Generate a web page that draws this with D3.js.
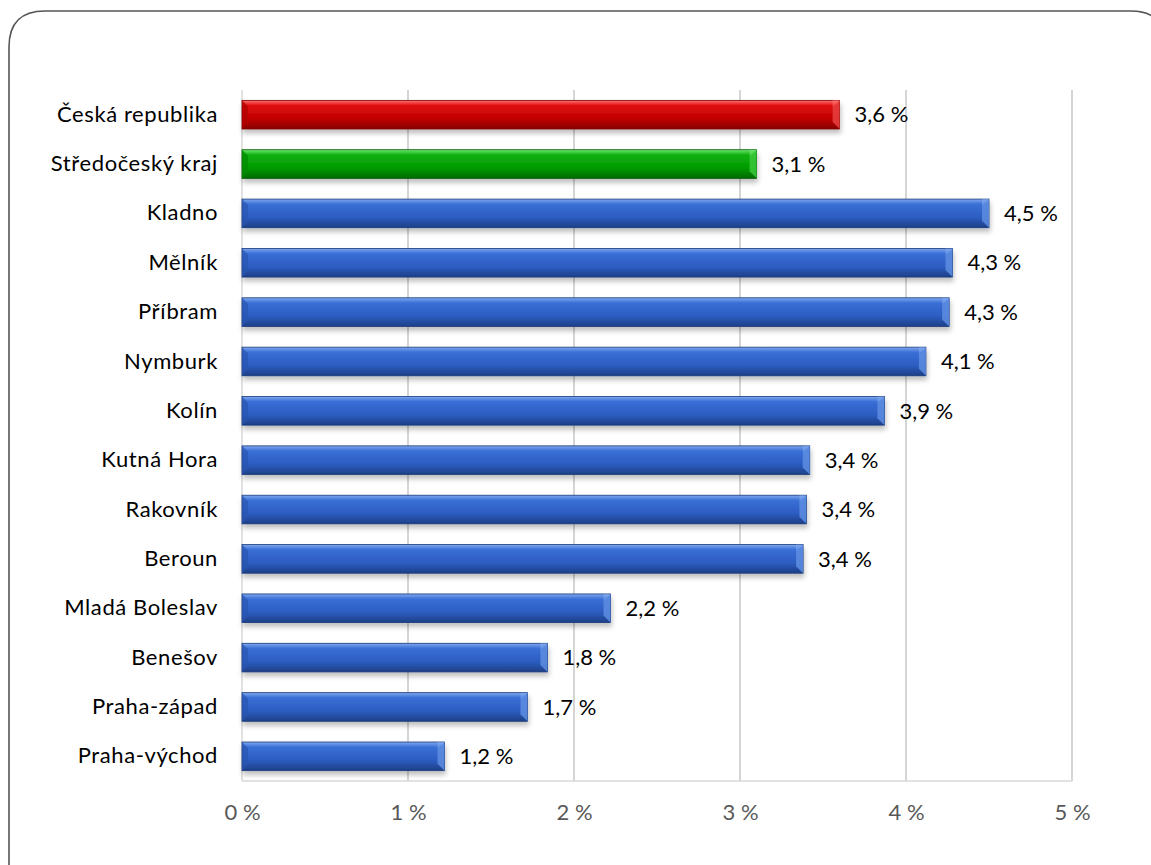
<!DOCTYPE html>
<html><head><meta charset="utf-8">
<script src="https://cdn.jsdelivr.net/npm/d3@7"></script>
<style>
html,body{margin:0;padding:0;background:#fff;}
svg{display:block;}
</style></head>
<body>
<svg id="chart" width="1151" height="865"></svg>
<script>
const categories = ["Česká republika","Středočeský kraj","Kladno","Mělník","Příbram","Nymburk","Kolín","Kutná Hora","Rakovník","Beroun","Mladá Boleslav","Benešov","Praha-západ","Praha-východ"];
const values = [3.6, 3.1, 4.5, 4.28, 4.26, 4.12, 3.87, 3.42, 3.40, 3.38, 2.22, 1.84, 1.72, 1.22];
const barKinds = ["red","green","blue","blue","blue","blue","blue","blue","blue","blue","blue","blue","blue","blue"];
const tickValues = [0,1,2,3,4,5];

const svg = d3.select("#chart");
const W = 1151, H = 865;
const m = {left:242, right:1072, top:90, bottom:781};
const FONT = "Lato, 'Open Sans', sans-serif";

// frame (rounded)
svg.append("path")
  .attr("d", `M9,${H+20} L9,47 Q9,11 45,11 L${W-20},11 Q${W+14},11 ${W+14},45 L${W+14},${H+20}`)
  .attr("fill","none").attr("stroke","#555").attr("stroke-width",1.6);

const defs = svg.append("defs");
const palettes = {
  blue:  {top:"#7fa8ee", mid:"#3a6fd6", low:"#2c5cc0", bot:"#1d3f86", edge:"#1a3a7a", bevel:"#5d8de0", left:"#2a56b0"},
  red:   {top:"#ff7070", mid:"#e01010", low:"#c00000", bot:"#860000", edge:"#7a0000", bevel:"#e84040", left:"#b00000"},
  green: {top:"#6ee66e", mid:"#10b010", low:"#009a00", bot:"#006a00", edge:"#005a00", bevel:"#3ac83a", left:"#008a00"}
};
Object.entries(palettes).forEach(([k,p])=>{
  const g = defs.append("linearGradient").attr("id","g-"+k).attr("x1",0).attr("y1",0).attr("x2",0).attr("y2",1);
  g.append("stop").attr("offset","0%").attr("stop-color",p.top);
  g.append("stop").attr("offset","18%").attr("stop-color",p.mid);
  g.append("stop").attr("offset","65%").attr("stop-color",p.low);
  g.append("stop").attr("offset","100%").attr("stop-color",p.bot);
});
const f = defs.append("filter").attr("id","shadow").attr("x","-5%").attr("y","-30%").attr("width","110%").attr("height","180%");
f.append("feDropShadow").attr("dx",1).attr("dy",4).attr("stdDeviation",2.5).attr("flood-color","#000").attr("flood-opacity",0.25);

const x = d3.scaleLinear().domain([0,5]).range([m.left, m.right]);
const y = d3.scaleBand().domain(categories).range([m.top, m.bottom]).paddingInner(0.42).paddingOuter(0.21);

// gridlines
svg.append("g").selectAll("line").data(tickValues.filter(d=>d>0)).join("line")
  .attr("x1",d=>x(d)).attr("x2",d=>x(d)).attr("y1",m.top).attr("y2",m.bottom)
  .attr("stroke","#bfbfbf").attr("stroke-width",1.3);
// axes lines
svg.append("line").attr("x1",m.left).attr("x2",m.left).attr("y1",m.top).attr("y2",m.bottom).attr("stroke","#d9d9d9").attr("stroke-width",1.5);
svg.append("line").attr("x1",m.left).attr("x2",m.right).attr("y1",m.bottom).attr("y2",m.bottom).attr("stroke","#d9d9d9").attr("stroke-width",1.5);

// x axis labels
const xAxis = d3.axisBottom(x).tickValues(tickValues).tickSize(0).tickPadding(0).tickFormat(d=>d+" %");
const gx = svg.append("g").attr("transform",`translate(0,${m.bottom+39})`).call(xAxis);
gx.select(".domain").remove();
gx.selectAll("text").attr("fill","#595959").attr("font-family",FONT).attr("font-size",22).attr("dy","0");

// y axis labels
const yAxis = d3.axisLeft(y).tickSize(0).tickPadding(24);
const gy = svg.append("g").attr("transform",`translate(${m.left},0)`).call(yAxis);
gy.select(".domain").remove();
gy.selectAll("text").attr("fill","#000").attr("font-family",FONT).attr("font-size",22).attr("letter-spacing","0.6px");

// bars
const bars = svg.append("g").selectAll("g").data(categories.map((c,i)=>({c, v:values[i], k:barKinds[i]}))).join("g");
const bh = y.bandwidth();
bars.append("rect")
  .attr("x",x(0)).attr("y",d=>y(d.c)).attr("width",d=>x(d.v)-x(0)).attr("height",bh)
  .attr("fill",d=>`url(#g-${d.k})`).attr("stroke",d=>palettes[d.k].edge).attr("stroke-width",0.8)
  .attr("filter","url(#shadow)");
// right bevel facet
bars.append("path")
  .attr("d",d=>{const xe=x(d.v), y0=y(d.c), b=7; return `M${xe-b},${y0+b} L${xe},${y0} L${xe},${y0+bh} L${xe-b},${y0+bh-b} Z`;})
  .attr("fill",d=>palettes[d.k].bevel).attr("opacity",0.85);
bars.append("path")
  .attr("d",d=>{const xe=x(d.v), y0=y(d.c), b=7; return `M${xe-b},${y0+b} L${xe},${y0} L${xe-b},${y0} Z`;})
  .attr("fill",d=>palettes[d.k].top).attr("opacity",0.6);
// left bevel
bars.append("path")
  .attr("d",d=>{const xs=x(0), y0=y(d.c), b=6; return `M${xs},${y0} L${xs+b},${y0+b} L${xs+b},${y0+bh-b} L${xs},${y0+bh} Z`;})
  .attr("fill",d=>palettes[d.k].left).attr("opacity",0.7);

// value labels
const fmt = v => d3.format(".1f")(v).replace(".",",")+" %";
bars.append("text")
  .attr("x",d=>x(d.v)+15).attr("y",d=>y(d.c)+bh/2).attr("dy","0.35em")
  .attr("font-family",FONT).attr("font-size",22).attr("fill","#000")
  .text(d=>fmt(d.v));
</script>
</body></html>
